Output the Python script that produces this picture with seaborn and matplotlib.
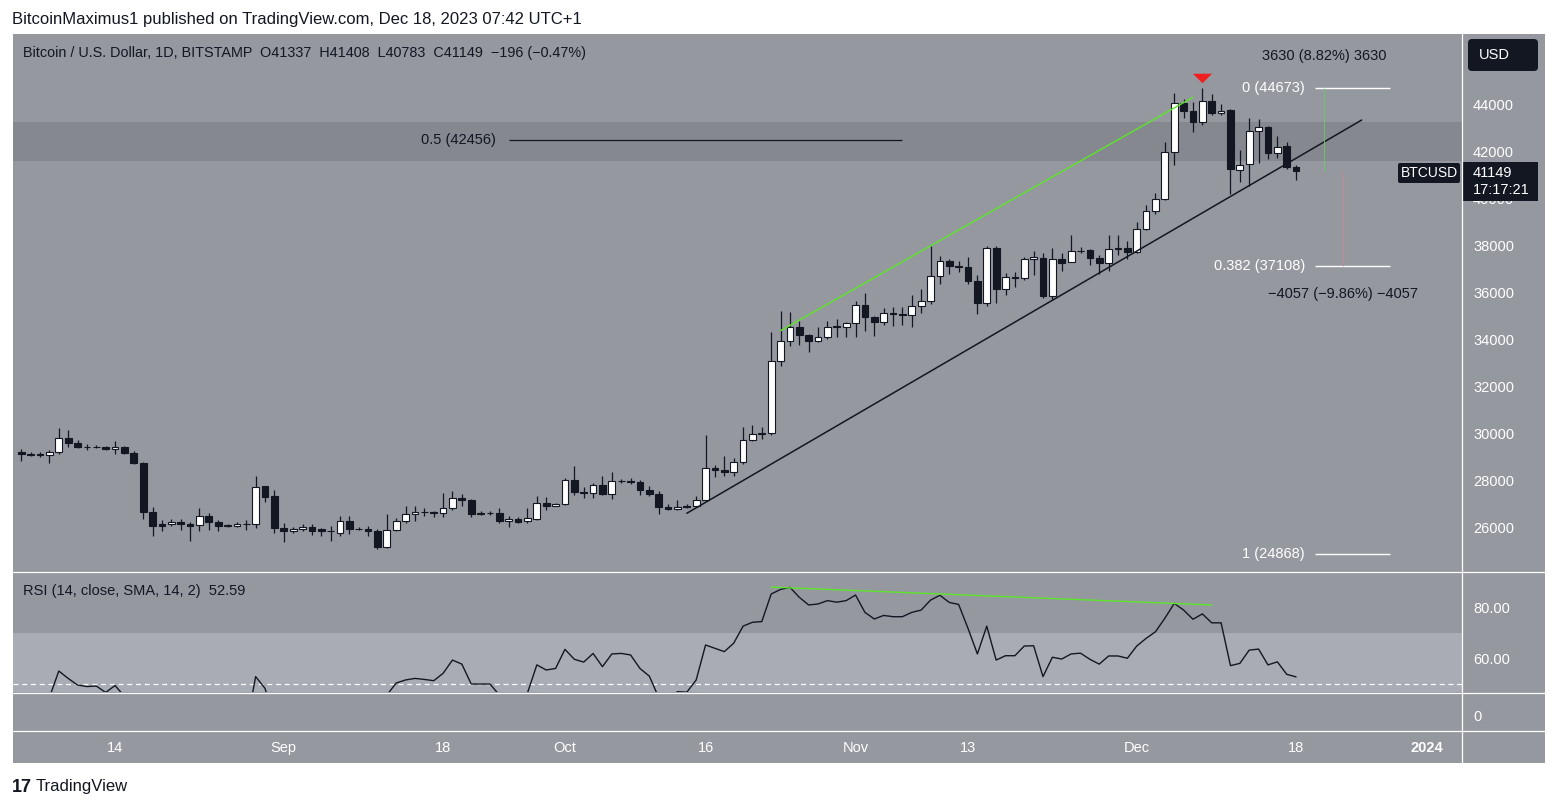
import matplotlib
matplotlib.use("Agg")
import matplotlib.pyplot as plt
import matplotlib.dates as mdates
from matplotlib.patches import FancyBboxPatch, Rectangle
import numpy as np
import pandas as pd
import seaborn as sns

sns.set_style("white")
plt.rcParams['font.family'] = ['Liberation Sans', 'DejaVu Sans']

W, H = 1556, 809
BG = '#95989f'
ZONE = '#85888f'
BAND = '#a9acb4'
INK = '#131722'
GREEN = '#5ce62a'

# daily BTCUSD candles, Aug 4 .. Dec 18 2023
dates = pd.date_range('2023-08-04', '2023-12-18', freq='D')
opens = [29200, 29100, 29080, 29060, 29180, 29780, 29560, 29420, 29400, 29420,
         29300, 29420, 29170, 28710, 26650, 26120, 26120, 26200, 26130, 26080,
         26460, 26200, 26060, 26040, 26130, 26120, 27740, 27300, 25950, 25810,
         25910, 25990, 25910, 25810, 25760, 26260, 25930, 25920, 25850, 25160,
         25870, 26260, 26550, 26630, 26620, 26590, 26800, 27220, 27130, 26570,
         26590, 26580, 26260, 26330, 26240, 26360, 27040, 26910, 26960, 27980,
         27500, 27430, 27800, 27420, 27950, 27970, 27930, 27590, 27390, 26870,
         26760, 26860, 26880, 27160, 28520, 28410, 28330, 28750, 29690, 29940,
         29990, 33070, 33900, 34500, 34150, 33900, 34090, 34540, 34490, 34660,
         35440, 34920, 34720, 35090, 35050, 35030, 35390, 35610, 36670, 37320,
         37120, 37060, 36450, 35550, 37870, 36140, 36630, 36580, 37390, 37450,
         35810, 37400, 37270, 37730, 37770, 37430, 37230, 37820, 37860, 37690,
         38680, 39450, 39960, 41940, 44030, 43720, 43250, 44140, 43630, 43740,
         41200, 41430, 42840, 43010, 41910, 42210, 41337]
highs = [29310, 29180, 29200, 29280, 30210, 30130, 29700, 29530, 29480, 29450,
         29660, 29460, 29230, 28760, 26840, 26300, 26330, 26330, 26200, 26810,
         26580, 26300, 26110, 26200, 26300, 28170, 27760, 27580, 26160, 25980,
         26120, 26120, 25950, 26040, 26470, 26470, 25980, 26040, 25910, 26550,
         26400, 26890, 26890, 26800, 26660, 27460, 27520, 27400, 27180, 26700,
         26670, 26800, 26470, 26440, 26830, 27320, 27260, 27020, 28090, 28600,
         27720, 27860, 28170, 28350, 28060, 28100, 27980, 27750, 27520, 26980,
         27150, 26980, 27320, 29920, 28630, 29020, 28920, 30260, 30340, 30260,
         34290, 35180, 35130, 34780, 34220, 34500, 34750, 34850, 34730, 35610,
         35950, 34960, 35300, 35350, 35350, 35870, 36110, 37970, 37540, 37400,
         37300, 37480, 36720, 37950, 37950, 36820, 36850, 37500, 37730, 37680,
         37870, 37650, 38430, 37900, 37830, 37570, 38410, 38410, 38150, 38980,
         39700, 40200, 42400, 44480, 44230, 44070, 44670, 44430, 44000, 43780,
         42040, 43390, 43350, 43080, 42640, 42380, 41408]
lows = [28830, 29020, 28980, 28710, 29100, 29400, 29360, 29260, 29350, 29260,
        29100, 29100, 28700, 26330, 25630, 25850, 26040, 25870, 25420, 25850,
        25870, 25850, 26010, 26010, 25870, 25970, 27050, 25740, 25380, 25760,
        25810, 25680, 25620, 25420, 25620, 25700, 25870, 25620, 25050, 25100,
        25810, 26190, 26260, 26470, 26430, 26430, 26730, 26900, 26430, 26520,
        26530, 26160, 26020, 26160, 26160, 26300, 26730, 26880, 26930, 27350,
        27220, 27220, 27380, 27200, 27870, 27820, 27350, 27310, 26570, 26720,
        26720, 26820, 26850, 27150, 28120, 28190, 28190, 28670, 29640, 29740,
        29900, 32870, 33700, 33750, 33430, 33880, 34000, 34080, 34080, 34100,
        34360, 34120, 34580, 34550, 34600, 34520, 35120, 35500, 36340, 36780,
        36860, 36360, 35050, 35400, 35550, 35870, 36200, 36500, 36730, 35740,
        35650, 36910, 37270, 37640, 37160, 36750, 36910, 37560, 37420, 37650,
        38630, 39300, 39900, 41400, 43420, 42830, 43110, 43530, 43530, 40170,
        40680, 40520, 41500, 41680, 41690, 41250, 40783]
closes = [29100, 29080, 29090, 29180, 29780, 29560, 29420, 29400, 29420, 29300,
          29420, 29170, 28710, 26650, 26060, 26060, 26200, 26130, 26050, 26460,
          26200, 26060, 26070, 26130, 26120, 27720, 27290, 25950, 25810, 25920,
          25990, 25850, 25810, 25830, 26260, 25930, 25920, 25830, 25160, 25870,
          26260, 26550, 26630, 26620, 26590, 26800, 27220, 27130, 26570, 26590,
          26580, 26270, 26330, 26230, 26370, 27040, 26900, 26960, 27980, 27500,
          27430, 27800, 27420, 27950, 27970, 27930, 27590, 27390, 26870, 26760,
          26860, 26880, 27160, 28520, 28410, 28320, 28750, 29690, 29940, 29980,
          33050, 33900, 34500, 34150, 33900, 34090, 34520, 34490, 34670, 35440,
          34920, 34720, 35090, 35050, 35020, 35390, 35610, 36670, 37310, 37120,
          37060, 36450, 35550, 37870, 36140, 36630, 36600, 37390, 37470, 35810,
          37400, 37250, 37730, 37760, 37430, 37230, 37820, 37860, 37690, 38670,
          39440, 39960, 41940, 44030, 43720, 43250, 44140, 43630, 43720, 41220,
          41420, 42840, 43010, 41910, 42190, 41337, 41149]
rsi = [44.0, 43.5, 43.5, 44.5, 54.9, 52.0, 49.4, 48.8, 49.0, 46.5,
       49.2, 45.0, 41.0, 28.0, 26.0, 26.5, 27.5, 27.2, 27.0, 32.0,
       30.5, 30.0, 30.0, 31.0, 32.7, 52.7, 48.1, 36.0, 35.0, 36.0,
       37.0, 36.0, 35.5, 36.0, 40.5, 38.5, 38.3, 37.5, 32.0, 45.5,
       50.2, 51.4, 52.0, 51.6, 51.1, 54.0, 59.2, 57.6, 49.8, 49.8,
       49.8, 45.5, 46.0, 45.0, 46.3, 57.3, 55.3, 55.9, 63.4, 59.5,
       58.4, 61.8, 56.6, 61.6, 61.8, 61.2, 55.9, 52.9, 44.5, 44.0,
       46.8, 46.6, 51.4, 65.1, 63.8, 62.5, 65.8, 72.5, 74.0, 74.3,
       85.1, 86.9, 87.7, 83.8, 80.8, 81.2, 82.5, 81.9, 82.5, 84.7,
       77.9, 75.3, 76.7, 76.2, 76.2, 77.9, 78.8, 82.7, 84.6, 81.8,
       81.0, 71.6, 61.6, 72.5, 59.2, 60.9, 60.9, 64.7, 64.8, 52.7,
       60.3, 59.6, 61.6, 61.9, 59.5, 57.6, 60.8, 60.8, 59.9, 64.7,
       67.7, 70.3, 75.6, 81.4, 78.8, 75.2, 77.3, 73.8, 73.8, 57.0,
       57.9, 63.1, 63.5, 57.3, 58.5, 53.6, 52.6]

# drawings
trend_dates = ['2023-10-14', '2023-12-25']
trend_prices = [26584, 43319]
green_dates = ['2023-10-24', '2023-12-07']
green_prices = [34353, 44285]
rsi_green_dates = ['2023-10-23', '2023-12-09']
rsi_green_vals = [87.8, 80.8]
zone_low, zone_high = 41575, 43234
top_date, top_price = '2023-12-08', 45106
fib_start, fib_end = '2023-12-20', '2023-12-28'
fib_levels = [('0 (44673)', 44673), ('0.382 (37108)', 37108), ('1 (24868)', 24868)]
half_start, half_end, half_level = '2023-09-25', '2023-11-06', 42456
last_close = 41149
up_date, down_date = '2023-12-21', '2023-12-23'
price_ticks = list(range(26000, 46000, 2000))
rsi_ticks = [60, 80]
time_ticks = ['2023-08-14', '2023-09-01', '2023-09-18', '2023-10-01', '2023-10-16',
              '2023-11-01', '2023-11-13', '2023-12-01', '2023-12-18', '2024-01-01']
time_labels = ['14', 'Sep', '18', 'Oct', '16', 'Nov', '13', 'Dec', '18', '2024']


def num(s):
    return mdates.date2num(pd.Timestamp(s))


def pane(x0, y0, x1, y1, **kw):
    return fig.add_axes([x0 / W, 1 - y1 / H, (x1 - x0) / W, (y1 - y0) / H], **kw)


fig = plt.figure(figsize=(W / 100, H / 100), dpi=100, facecolor='white')

bg = fig.add_axes([0, 0, 1, 1], zorder=-5)
bg.set_xlim(0, W)
bg.set_ylim(H, 0)
bg.axis('off')
bg.add_patch(Rectangle((13, 34), 1532, 729, fc=BG, ec='none'))

xd = mdates.date2num(dates)
x_left = num('2023-08-04') - 0.886
x_right = num('2023-08-04') + 153.7

# main price pane
ax = pane(13, 34, 1462, 571, facecolor=BG)
o, h, l, c = map(np.array, (opens, highs, lows, closes))
up = c >= o
ax.axhspan(zone_low, zone_high, color=ZONE, lw=0, zorder=0)
ax.vlines(xd, l, h, color=INK, lw=0.9, zorder=2)
ax.bar(xd, np.maximum(np.abs(c - o), 1), bottom=np.minimum(o, c), width=0.72,
       color=['white' if u else INK for u in up], edgecolor=INK, linewidth=0.8, zorder=3)

sns.lineplot(x=[num(d) for d in trend_dates], y=trend_prices, ax=ax, color=INK, lw=1.1, zorder=4)
sns.lineplot(x=[num(d) for d in green_dates], y=green_prices, ax=ax, color=GREEN, lw=1.0, zorder=4)
ax.hlines(half_level, num(half_start), num(half_end), color=INK, lw=0.9, zorder=4)
ax.annotate('0.5 (42456)', xy=(num(half_start), half_level), xytext=(-9.4, 0),
            textcoords='offset points', ha='right', va='center', color=INK, fontsize=10.5)
for lab, lev in fib_levels:
    ax.hlines(lev, num(fib_start), num(fib_end), color='white', lw=1.0, zorder=4)
    ax.annotate(lab, xy=(num(fib_start), lev), xytext=(-7.2, 0), textcoords='offset points',
                ha='right', va='center', color='white', fontsize=10.5)
ax.vlines(num(up_date), last_close, fib_levels[0][1], color='#5fd35f', lw=0.6, zorder=4)
ax.vlines(num(down_date), fib_levels[1][1], last_close, color='#c48a92', lw=0.6, zorder=4)
ax.annotate('3630 (8.82%) 3630', xy=(num(up_date), fib_levels[0][1]), xytext=(0, 23.5),
            textcoords='offset points', ha='center', va='center', color=INK, fontsize=10.5)
ax.annotate('\u22124057 (\u22129.86%) \u22124057', xy=(num(down_date), fib_levels[1][1]), xytext=(0, -20),
            textcoords='offset points', ha='center', va='center', color=INK, fontsize=10.5)
tri = [(-1, 0.5), (1, 0.5), (0, -0.5), (-1, 0.5)]
ax.plot([num(top_date)], [top_price], marker=tri, ms=13.7, color='#f01e1e', mec='none', ls='none', zorder=5)

ax.set_xlim(x_left, x_right)
ax.set_ylim(24128, 46979)
ax.yaxis.tick_right()
ax.set_yticks(price_ticks)
ax.set_yticklabels([str(t) for t in price_ticks])
ax.set_xticks([])
ax.tick_params(axis='y', length=0, pad=8, labelcolor='white', labelsize=10.5)
for lbl in ax.get_yticklabels():
    lbl.set_horizontalalignment('left')
ax.set_xlabel('')
ax.set_ylabel('')
sns.despine(ax=ax, left=True, bottom=True, right=True, top=True)

# RSI pane
rax = pane(13, 572, 1462, 692, facecolor=BG)
rax.axhspan(30, 70, color=BAND, lw=0, zorder=0)
rax.axhline(50, color='white', lw=0.9, ls=(0, (4, 3)), zorder=1)
sns.lineplot(x=xd, y=rsi, ax=rax, color=INK, lw=1.0, zorder=3)
sns.lineplot(x=[num(d) for d in rsi_green_dates], y=rsi_green_vals, ax=rax, color=GREEN, lw=1.0, zorder=4)
rax.set_xlim(x_left, x_right)
rax.set_ylim(46.67, 93.73)
rax.yaxis.tick_right()
rax.set_yticks(rsi_ticks)
rax.set_yticklabels(['%.2f' % t for t in rsi_ticks])
rax.set_xticks([])
rax.tick_params(axis='y', length=0, pad=8, labelcolor='white', labelsize=10.5)
for lbl in rax.get_yticklabels():
    lbl.set_horizontalalignment('left')
rax.set_xlabel('')
rax.set_ylabel('')
sns.despine(ax=rax, left=True, bottom=True, right=True, top=True)

# empty pane + time axis
tax = pane(13, 693, 1462, 730, facecolor=BG)
tax.set_xlim(x_left, x_right)
tax.set_yticks([])
tax.set_xticks([num(d) for d in time_ticks])
tax.set_xticklabels(time_labels)
tax.tick_params(axis='x', length=0, pad=8, labelcolor='white', labelsize=10.5)
tax.get_xticklabels()[-1].set_fontweight('bold')
sns.despine(ax=tax, left=True, bottom=True, right=True, top=True)

# overlay: separators, labels, boxes
ov = fig.add_axes([0, 0, 1, 1], zorder=10)
ov.set_xlim(0, W)
ov.set_ylim(H, 0)
ov.axis('off')
ov.patch.set_alpha(0)
for yy in (571.5, 692.5, 730.5):
    ov.plot([13, 1545], [yy, yy], color='white', lw=0.9)
ov.plot([1462.5, 1462.5], [34, 763], color='white', lw=0.9)

ov.text(12, 19, 'BitcoinMaximus1 published on TradingView.com, Dec 18, 2023 07:42 UTC+1',
        color=INK, fontsize=12, va='center', ha='left')
ov.text(23, 53, 'Bitcoin / U.S. Dollar, 1D, BITSTAMP  O41337  H41408  L40783  C41149  \u2212196 (\u22120.47%)',
        color=INK, fontsize=10.4, va='center', ha='left')
ov.text(23, 591, 'RSI (14, close, SMA, 14, 2)  52.59', color=INK, fontsize=10.5, va='center', ha='left')
ov.text(1473, 717, '0', color='white', fontsize=10.5, va='center', ha='left')

ov.add_patch(FancyBboxPatch((1468, 39), 70, 32, boxstyle='round,pad=0,rounding_size=4', fc=INK, ec='none'))
ov.text(1479, 55, 'USD', color='white', fontsize=10.5, va='center', ha='left')
ov.add_patch(FancyBboxPatch((1398, 163), 62, 20, boxstyle='round,pad=0,rounding_size=2', fc=INK, ec='none'))
ov.text(1429, 173, 'BTCUSD', color='white', fontsize=10, va='center', ha='center')
ov.add_patch(Rectangle((1463, 162), 75, 39, fc=INK, ec='none'))
ov.text(1473, 173, '41149', color='white', fontsize=10.5, va='center', ha='left')
ov.text(1473, 190, '17:17:21', color='white', fontsize=10.5, va='center', ha='left')

ov.text(12, 787, '17', color=INK, fontsize=13, fontweight='heavy', va='center', ha='left')
ov.text(36, 787, 'TradingView', color=INK, fontsize=12, va='center', ha='left')

fig.savefig('out.png', dpi=100, facecolor='white')
